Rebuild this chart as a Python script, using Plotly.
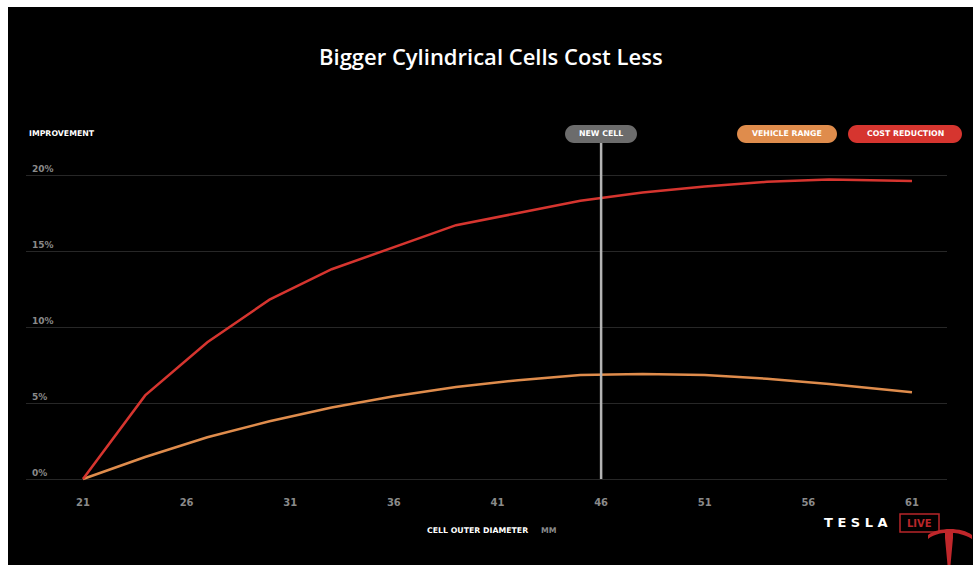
import plotly.graph_objects as go

# Cell outer diameter (mm) and the two improvement curves (%)
diameters = [21, 24, 27, 30, 33, 36, 39, 42, 45, 48, 51, 54, 57, 61]
cost_reduction = [0, 5.5, 9.0, 11.8, 13.8, 15.25, 16.7, 17.5, 18.3, 18.85, 19.25, 19.55, 19.7, 19.6]
vehicle_range = [0, 1.45, 2.75, 3.8, 4.7, 5.45, 6.05, 6.5, 6.85, 6.9, 6.85, 6.6, 6.25, 5.7]
new_cell_diameter = 46

x_tick_values = [21, 26, 31, 36, 41, 46, 51, 56, 61]
y_tick_values = [0, 5, 10, 15, 20]
y_tick_labels = ["0%", "5%", "10%", "15%", "20%"]

RED = "#d6352f"
ORANGE = "#df8c4c"
GRAY_PILL = "#6c6c6c"
TICK_GRAY = "#8a8a8a"

W, H = 973, 565
M_L, M_R, M_T, M_B = 26, 26, 140, 78
PW, PH = W - M_L - M_R, H - M_T - M_B


def px(x):
    return (x - M_L) / PW


def py(y):
    return (H - M_B - y) / PH


def pill(x0, x1, y0, y1, color):
    r = (y1 - y0) / 2
    k = r * 0.55
    pts = [
        f"M{px(x0 + r)},{py(y0)}",
        f"L{px(x1 - r)},{py(y0)}",
        f"C{px(x1 - r + k)},{py(y0)} {px(x1)},{py(y0 + r - k)} {px(x1)},{py(y0 + r)}",
        f"C{px(x1)},{py(y1 - r + k)} {px(x1 - r + k)},{py(y1)} {px(x1 - r)},{py(y1)}",
        f"L{px(x0 + r)},{py(y1)}",
        f"C{px(x0 + r - k)},{py(y1)} {px(x0)},{py(y1 - r + k)} {px(x0)},{py(y1 - r)}",
        f"C{px(x0)},{py(y0 + r - k)} {px(x0 + r - k)},{py(y0)} {px(x0 + r)},{py(y0)}",
        "Z",
    ]
    return dict(type="path", xref="paper", yref="paper", path=" ".join(pts),
                fillcolor=color, line=dict(width=0), layer="above")


fig = go.Figure()
fig.add_trace(go.Scatter(x=diameters, y=vehicle_range, mode="lines",
                         line=dict(color=ORANGE, width=2.5), name="VEHICLE RANGE"))
fig.add_trace(go.Scatter(x=diameters, y=cost_reduction, mode="lines",
                         line=dict(color=RED, width=2.5), name="COST REDUCTION"))

px_per_mm = 921 / 44.44
x_lo = 21 - (83 - M_L) / px_per_mm
x_hi = x_lo + PW / px_per_mm
px_per_pct = 15.2
y_lo = -(H - M_B - 479) / px_per_pct
y_hi = y_lo + PH / px_per_pct

shapes = [
    # white frame strips at top and left
    dict(type="rect", xref="paper", yref="paper", x0=px(0), x1=px(W), y0=py(7), y1=py(-2),
         fillcolor="white", line=dict(width=0), layer="above"),
    dict(type="rect", xref="paper", yref="paper", x0=px(-2), x1=px(8), y0=py(H + 2), y1=py(-2),
         fillcolor="white", line=dict(width=0), layer="above"),
    # new cell marker
    dict(type="line", xref="x", yref="paper", x0=new_cell_diameter, x1=new_cell_diameter,
         y0=py(479), y1=py(140), line=dict(color="#b4b4b4", width=2.5), layer="above"),
    pill(565, 637, 125, 143, GRAY_PILL),
    pill(737, 837, 125, 143, ORANGE),
    pill(848, 962, 125, 143, RED),
    # LIVE box
    dict(type="rect", xref="paper", yref="paper", x0=px(900), x1=px(939), y0=py(532), y1=py(514),
         fillcolor="rgba(0,0,0,0)", line=dict(color="#b8262a", width=1.5), layer="above"),
    # Tesla "T" mark
    dict(type="path", xref="paper", yref="paper", fillcolor="#c0272b", line=dict(width=0), layer="above",
         path=(f"M{px(928)},{py(535)} C{px(938)},{py(527)} {px(962)},{py(527)} {px(972)},{py(535)} "
               f"L{px(972)},{py(539)} C{px(964)},{py(534)} {px(956)},{py(533)} {px(953)},{py(533)} "
               f"L{px(953)},{py(538)} L{px(950.5)},{py(565)} L{px(947.5)},{py(565)} L{px(945)},{py(538)} "
               f"L{px(945)},{py(533)} C{px(942)},{py(533)} {px(934)},{py(534)} {px(928)},{py(539)} Z")),
]

LABEL_FONT = "DejaVu Sans"
annotations = [
    dict(text="Bigger Cylindrical Cells Cost Less", x=px(491), y=py(56), xref="paper", yref="paper",
         showarrow=False, font=dict(family="Open Sans", size=22, color="white", weight=600),
         xanchor="center", yanchor="middle"),
    dict(text="<b>IMPROVEMENT</b>", x=px(27), y=py(134), xref="paper", yref="paper", showarrow=False,
         font=dict(family=LABEL_FONT, size=7.8, color="white"), xanchor="left", yanchor="middle"),
    dict(text="<b>CELL OUTER DIAMETER</b>", x=px(425), y=py(530), xref="paper", yref="paper", showarrow=False,
         font=dict(family=LABEL_FONT, size=7.8, color="white"), xanchor="left", yanchor="middle"),
    dict(text="<b>MM</b>", x=px(539), y=py(530), xref="paper", yref="paper", showarrow=False,
         font=dict(family=LABEL_FONT, size=7.8, color="#8a8a8a"), xanchor="left", yanchor="middle"),
    dict(text="<b>NEW CELL</b>", x=px(601), y=py(134), xref="paper", yref="paper", showarrow=False,
         font=dict(family=LABEL_FONT, size=7.8, color="white"), xanchor="center", yanchor="middle"),
    dict(text="<b>VEHICLE RANGE</b>", x=px(787), y=py(134), xref="paper", yref="paper", showarrow=False,
         font=dict(family=LABEL_FONT, size=7.8, color="white"), xanchor="center", yanchor="middle"),
    dict(text="<b>COST REDUCTION</b>", x=px(905), y=py(134), xref="paper", yref="paper", showarrow=False,
         font=dict(family=LABEL_FONT, size=7.8, color="white"), xanchor="center", yanchor="middle"),
    dict(text="<b>T E S L A</b>", x=px(856), y=py(522), xref="paper", yref="paper", showarrow=False,
         font=dict(family="DejaVu Sans", size=13, color="white"), xanchor="center", yanchor="middle"),
    dict(text="<b>LIVE</b>", x=px(919.5), y=py(523), xref="paper", yref="paper", showarrow=False,
         font=dict(family="DejaVu Sans", size=10, color="#b8262a"), xanchor="center", yanchor="middle"),
]

fig.update_layout(
    width=W, height=H,
    margin=dict(l=M_L, r=M_R, t=M_T, b=M_B, autoexpand=False),
    paper_bgcolor="black", plot_bgcolor="black",
    showlegend=False,
    shapes=shapes, annotations=annotations,
    xaxis=dict(range=[x_lo, x_hi], tickvals=x_tick_values, showgrid=False, zeroline=False,
               showline=False, ticks="", ticklabelstandoff=8,
               tickfont=dict(family=LABEL_FONT, size=10, color=TICK_GRAY, weight="bold")),
    yaxis=dict(range=[y_lo, y_hi], tickvals=y_tick_values, ticktext=y_tick_labels,
               showgrid=True, gridcolor="#272727", gridwidth=1, zeroline=False, showline=False,
               ticks="", ticklabelposition="inside top", ticklabelstandoff=3,
               tickfont=dict(family=LABEL_FONT, size=9, color=TICK_GRAY, weight="bold")),
)

fig.write_html("out.html")
